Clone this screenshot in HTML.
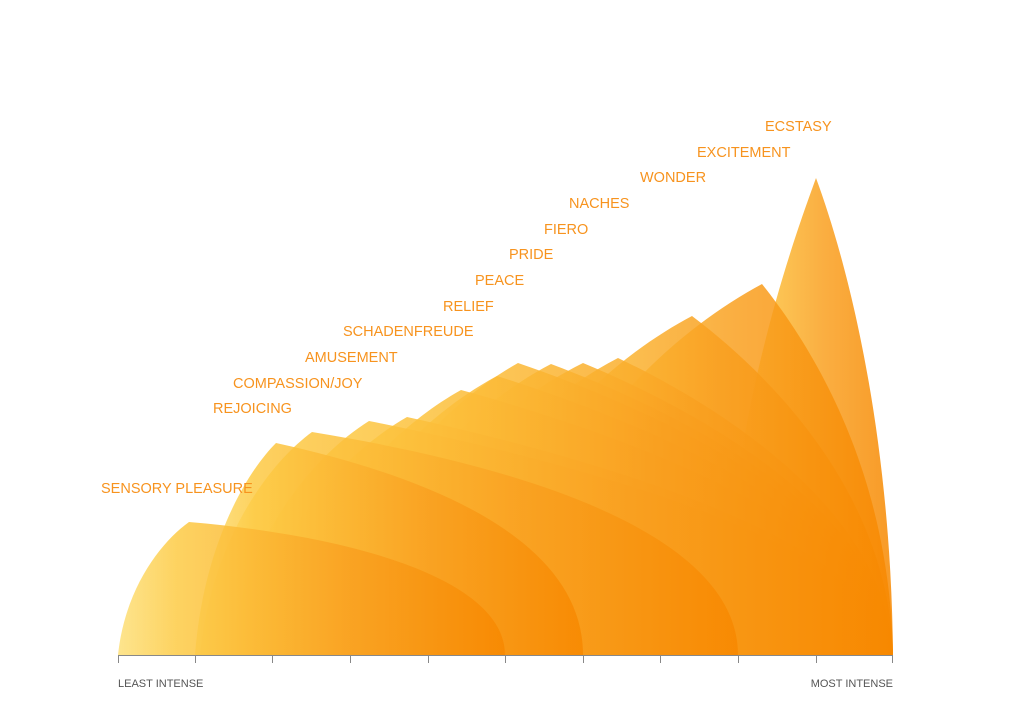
<!DOCTYPE html>
<html><head><meta charset="utf-8"><style>
html,body{margin:0;padding:0;background:#fff;}
svg{display:block;}
text{font-family:"Liberation Sans",sans-serif;}
.l{fill:#f7931e;font-size:14.5px;}
.a{fill:#555;font-size:11px;}
</style></head><body>
<svg width="1024" height="720" viewBox="0 0 1024 720" xmlns="http://www.w3.org/2000/svg">
<defs>
<linearGradient id="g" x1="0" y1="0" x2="1" y2="0">
<stop offset="0" stop-color="#fde07a"/>
<stop offset="0.15" stop-color="#fdcb45"/>
<stop offset="0.6" stop-color="#f9a020"/>
<stop offset="1" stop-color="#f78800"/>
</linearGradient>
</defs>
<g fill="url(#g)" fill-opacity="0.85">
<path d="M720,655 C730,416 790,250 816,178 C851,273 891,440 893,655 Z"/>
<path d="M500,655 C526,469 657,340 762,284 C821,358 890,482 893,655 Z"/>
<path d="M450,655 C474,485 595,367 692,316 C782,384 889,502 893,655 Z"/>
<path d="M400,655 C422,506 531,403 618,358 C742,417 887,521 893,655 Z"/>
<path d="M360,655 C382,509 494,407 583,363 C723,421 887,524 893,655 Z"/>
<path d="M340,655 C361,509 467,408 551,364 C705,422 886,524 893,655 Z"/>
<path d="M320,655 C340,509 439,407 518,363 C687,421 885,524 893,655 Z"/>
<path d="M300,655 C320,515 418,418 497,376 C675,432 885,530 893,655 Z"/>
<path d="M280,655 C298,522 389,430 461,390 C655,443 884,536 893,655 Z"/>
<path d="M250,655 C266,536 344,453 407,417 C626,465 883,548 893,655 Z"/>
<path d="M230,655 C244,538 313,456 369,421 C605,468 883,550 893,655 Z"/>
<path d="M200,655 C211,543 267,465 312,432 C545,470 738,540 738,655 Z"/>
<path d="M195,655 C203,549 244,475 276,443 C445,480 583,545 583,655 Z"/>
<path d="M118,655 C125,588 161,542 189,522 C363,537 505,582 505,655 Z"/>
</g>
<g stroke="#888" stroke-width="1" fill="none">
<line x1="118" y1="655.5" x2="893" y2="655.5"/>
<path d="M118.5,655V663M195.5,655V663M272.5,655V663M350.5,655V663M428.5,655V663M505.5,655V663M583.5,655V663M660.5,655V663M738.5,655V663M816.5,655V663M892.5,655V663"/>
</g>
<text class="a" x="118" y="687">LEAST INTENSE</text>
<text class="a" x="893" y="687" text-anchor="end">MOST INTENSE</text>
<text class="l" x="765" y="131">ECSTASY</text>
<text class="l" x="697" y="157">EXCITEMENT</text>
<text class="l" x="640" y="182">WONDER</text>
<text class="l" x="569" y="208">NACHES</text>
<text class="l" x="544" y="234">FIERO</text>
<text class="l" x="509" y="259">PRIDE</text>
<text class="l" x="475" y="285">PEACE</text>
<text class="l" x="443" y="311">RELIEF</text>
<text class="l" x="343" y="336">SCHADENFREUDE</text>
<text class="l" x="305" y="362">AMUSEMENT</text>
<text class="l" x="233" y="388">COMPASSION/JOY</text>
<text class="l" x="213" y="413">REJOICING</text>
<text class="l" x="101" y="493">SENSORY PLEASURE</text>
</svg>
</body></html>
